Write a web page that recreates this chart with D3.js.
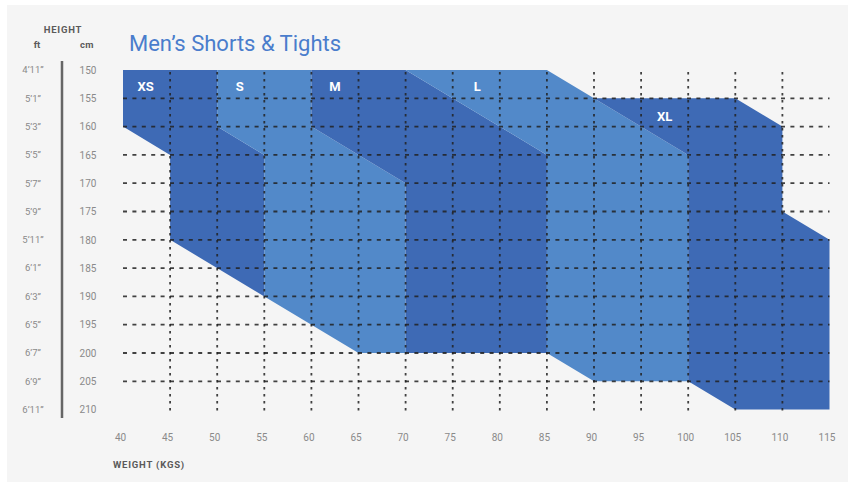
<!DOCTYPE html>
<html>
<head>
<meta charset="utf-8">
<script src="https://cdn.jsdelivr.net/npm/d3@7"></script>
<style>
  body { margin: 0; background: #ffffff; }
  svg { display: block; font-family: Roboto, "DejaVu Sans", sans-serif; }
</style>
</head>
<body>
<svg id="size-chart" width="850" height="484"></svg>
<script>
'use strict';

// data
var weightTicks = [40, 45, 50, 55, 60, 65, 70, 75, 80, 85, 90, 95, 100, 105, 110, 115]
var heightTicks = [150, 155, 160, 165, 170, 175, 180, 185, 190, 195, 200, 205, 210]
var feetLabels = ['4’11”', '5’1”', '5’3”', '5’5”', '5’7”', '5’9”', '5’11”', '6’1”', '6’3”', '6’5”', '6’7”', '6’9”', '6’11”']
var sizeNames = ['XS', 'S', 'M', 'L', 'XL']
// outlines of each size zone, [weight kg, height cm]
var sizeXS = [[40, 150], [50, 150], [50, 160], [55, 165], [55, 190], [45, 180], [45, 165], [40, 160]]
var sizeS = [[50, 150], [60, 150], [60, 160], [70, 170], [70, 200], [65, 200], [55, 190], [55, 165], [50, 160]]
var sizeM = [[60, 150], [70, 150], [85, 165], [85, 200], [70, 200], [70, 170], [60, 160]]
var sizeL = [[70, 150], [85, 150], [90, 155], [100, 165], [100, 205], [90, 205], [85, 200], [85, 165]]
var sizeXL = [[90, 155], [105, 155], [110, 160], [110, 175], [115, 180], [115, 210], [105, 210], [100, 205], [100, 165]]
// where each size name sits, [weight kg, height cm]
var labelSpots = [[42.4, 153], [52.4, 153], [62.5, 153], [77.6, 153], [97.5, 158.3]]

var zones = [sizeXS, sizeS, sizeM, sizeL, sizeXL]
var dark = '#3e6ab5'
var light = '#5289c9'

var svg = d3.select('#size-chart')

svg.append('rect')
    .attr('x', 7).attr('y', 5)
    .attr('width', 841).attr('height', 477)
    .attr('fill', '#f5f5f5')

var x = d3.scaleLinear().domain([40, 115]).range([123, 829.5])
var y = d3.scaleLinear().domain([150, 210]).range([70, 409.6])

// size zones
var line = d3.line()
    .x(function(d) { return x(d[0]) })
    .y(function(d) { return y(d[1]) })

svg.append('g')
    .selectAll('path')
    .data(zones)
    .enter().append('path')
    .attr('d', function(d) { return line(d) + 'Z' })
    .attr('fill', function(d, i) { return i % 2 === 0 ? dark : light })

// grid
var grid = svg.append('g').attr('class', 'grid')

grid.selectAll('.hgrid')
    .data(heightTicks.slice(1, -1))
    .enter().append('line')
    .attr('x1', x(40))
    .attr('x2', x(115))
    .attr('y1', function(d) { return y(d) })
    .attr('y2', function(d) { return y(d) })
    .attr('stroke', '#222')
    .attr('stroke-width', 1.8)
    .attr('stroke-dasharray', '4 5.4')
    .attr('opacity', 0.85)

grid.selectAll('.vgrid')
    .data(weightTicks.slice(1, -1))
    .enter().append('line')
    .attr('x1', function(d) { return x(d) })
    .attr('x2', function(d) { return x(d) })
    .attr('y1', y(150) + 2)
    .attr('y2', y(210) + 1)
    .attr('stroke', '#222')
    .attr('stroke-width', 1.8)
    .attr('stroke-dasharray', '2.5 4.5')
    .attr('opacity', 0.85)

// size names
svg.append('g')
    .selectAll('text')
    .data(sizeNames)
    .enter().append('text')
    .attr('x', function(d, i) { return x(labelSpots[i][0]) })
    .attr('y', function(d, i) { return y(labelSpots[i][1]) })
    .attr('text-anchor', 'middle')
    .attr('dominant-baseline', 'central')
    .attr('fill', '#fff')
    .attr('font-weight', 'bold')
    .attr('font-size', 13)
    .text(function(d) { return d })

// x axis
var xAxis = d3.axisBottom(x)
    .tickValues(weightTicks)
    .tickSize(0)
    .tickPadding(0)

var gx = svg.append('g')
    .attr('transform', 'translate(-3,437)')
    .call(xAxis)
gx.select('.domain').remove()
gx.selectAll('text')
    .attr('dy', '0.35em')
    .attr('y', 0)
    .attr('fill', '#8a8a8a')
    .attr('font-size', 10)
    .style('font-family', 'Roboto, sans-serif')

svg.append('text')
    .attr('x', 113).attr('y', 468)
    .attr('fill', '#5a5a5a')
    .attr('font-size', 9.5)
    .attr('font-weight', 'bold')
    .attr('letter-spacing', 0.8)
    .text('WEIGHT (KGS)')

// y axis
var yAxis = d3.axisLeft(y)
    .tickValues(heightTicks)
    .tickSize(0)
    .tickPadding(0)

var gy = svg.append('g')
    .attr('transform', 'translate(88,0)')
    .call(yAxis)
gy.select('.domain').remove()
gy.selectAll('text')
    .attr('x', 0)
    .attr('text-anchor', 'middle')
    .attr('fill', '#8a8a8a')
    .attr('font-size', 10)
    .style('font-family', 'Roboto, sans-serif')

svg.append('g')
    .selectAll('text')
    .data(feetLabels)
    .enter().append('text')
    .attr('x', 33)
    .attr('y', function(d, i) { return y(heightTicks[i]) })
    .attr('dy', '0.35em')
    .attr('text-anchor', 'middle')
    .attr('fill', '#8a8a8a')
    .attr('font-size', 9.5)
    .text(function(d) { return d })

svg.append('line')
    .attr('x1', 62).attr('x2', 62)
    .attr('y1', 61).attr('y2', 418)
    .attr('stroke', '#666')
    .attr('stroke-width', 2.5)

svg.append('text')
    .attr('x', 63).attr('y', 33)
    .attr('text-anchor', 'middle')
    .attr('fill', '#5a5a5a')
    .attr('font-size', 9.5)
    .attr('font-weight', 'bold')
    .attr('letter-spacing', 0.8)
    .text('HEIGHT')

svg.append('text')
    .attr('x', 37).attr('y', 48)
    .attr('text-anchor', 'middle')
    .attr('fill', '#5a5a5a')
    .attr('font-size', 9.5)
    .attr('font-weight', 'bold')
    .text('ft')

svg.append('text')
    .attr('x', 87).attr('y', 48)
    .attr('text-anchor', 'middle')
    .attr('fill', '#5a5a5a')
    .attr('font-size', 9.5)
    .attr('font-weight', 'bold')
    .attr('letter-spacing', 0.5)
    .text('cm')

// title
svg.append('text')
    .attr('x', 129).attr('y', 51)
    .attr('fill', '#4a7dcc')
    .attr('font-size', 22)
    .text('Men’s Shorts & Tights')
</script>
</body>
</html>
